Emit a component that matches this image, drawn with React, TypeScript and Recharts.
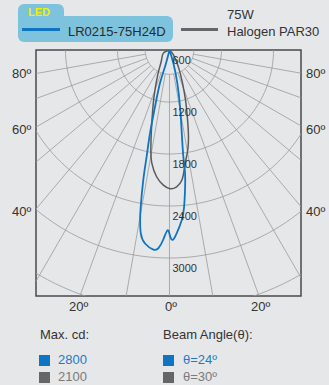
import { ReferenceArea, ReferenceDot, Scatter, ScatterChart, XAxis, YAxis } from 'recharts'

// candela curves: angle in degrees (0 = straight down, + = right) and cd
const ledAngles = [0, -15, -16, -14.3, -13.2, -12.1, -11.4, -10.4, -9.8, -8.9, -7.2, -4.6, -3.2, -1.9, -0.6, 0.2, 1.0, 2.2, 4.1, 5.3, 6.3, 7.2, 7.4, 8.4, 10.5, 13.3, 16.3, 0]
const ledCd = [600, 800, 1000, 1280, 1580, 1860, 2130, 2440, 2590, 2740, 2850, 2910, 2890, 2790, 2680, 2750, 2790, 2720, 2570, 2420, 2230, 2030, 1840, 1570, 1270, 990, 760, 600]

const halogenAngles = [0, -63, -38, -28, -23, -18.7, -15.3, -12.7, -10.6, -8.9, -5.8, -2.6, 0.2, 3.0, 5.4, 6.9, 8.5, 10.4, 12.5, 14.9, 17.7, 21.5, 27.8, 38.7, 0]
const halogenCd = [600, 680, 750, 860, 980, 1150, 1340, 1550, 1770, 1920, 2070, 2160, 2200, 2180, 2110, 2000, 1880, 1770, 1610, 1400, 1210, 1010, 820, 670, 600]

const hubCd = 880
const ringCd = [1200, 1800, 2400, 3000, 3600]
const ringLabels = ['600', '1200', '1800', '2400', '3000']
const spokeAngles = [-80, -70, -60, -50, -40, -30, -20, -10, 0, 10, 20, 30, 40, 50, 60, 70, 80]
const sideLabels = ['80º', '60º', '40º']
const bottomLabels = ['20º', '0º', '20º']

const maxCd = ['2800', '2100']
const beamAngles = ['θ=24º', 'θ=30º']

const LED_BLUE = '#0f75c3'
const HALOGEN_GRAY = '#5a5a5a'
const GRID = '#9a9a9a'
const CD_ZERO = 600 // radius axis starts at 600 cd at the lamp

const toXY = (angle: number, cd: number) => {
  const u = Math.max(cd - CD_ZERO, 0)
  const a = (angle * Math.PI) / 180
  return { x: u * Math.sin(a), y: -u * Math.cos(a) }
}

const ledPoints = ledAngles.map((a, i) => toXY(a, ledCd[i]))
const halogenPoints = halogenAngles.map((a, i) => toXY(a, halogenCd[i]))

const arc = (cd: number) => {
  const pts = []
  for (let a = -90; a <= 90; a += 2) pts.push(toXY(a, cd))
  return pts
}
const rings = [hubCd, ...ringCd].map(arc)
const spokes = spokeAngles.map((a) => [toXY(a, hubCd), toXY(a, 4200)])

const noDot = () => <g />

const ringLabel = (text: string) => (props: any) => {
  const vb = props.viewBox || {}
  return (
    <text x={(vb.x ?? 0) + 3} y={(vb.y ?? 0) + 10} fontSize={11} fill="#333" dominantBaseline="central">
      {text}
    </text>
  )
}

const txt = (left: number, top: number, extra: any = {}) => ({
  position: 'absolute' as const,
  left,
  top,
  fontSize: 13,
  lineHeight: '16px',
  whiteSpace: 'nowrap' as const,
  ...extra,
})

export default function App() {
  return (
    <div
      style={{
        position: 'fixed',
        left: 0,
        top: 0,
        width: 329,
        height: 385,
        overflow: 'hidden',
        background: '#e6e7e9',
        color: '#333',
        fontFamily: '"Liberation Sans", Arial, sans-serif',
      }}
    >
      {/* header legend */}
      <div style={{ position: 'absolute', left: 18, top: 4, width: 46, height: 16, background: '#7dc3dd', borderRadius: '6px 6px 0 0' }} />
      <div style={{ position: 'absolute', left: 18, top: 16, width: 155, height: 26, background: '#7dc3dd', borderRadius: '0 6px 6px 6px' }} />
      <div style={txt(28, 4, { fontSize: 11, fontWeight: 'bold', color: '#f2ee00' })}>LED</div>
      <div style={{ position: 'absolute', left: 22, top: 28, width: 38, height: 3, background: LED_BLUE }} />
      <div style={txt(68, 24, { color: '#2a2a2a' })}>LR0215-75H24D</div>
      <div style={{ position: 'absolute', left: 181, top: 28, width: 37, height: 3, background: '#666' }} />
      <div style={txt(227, 7)}>75W</div>
      <div style={txt(227, 24)}>Halogen PAR30</div>

      <div style={{ position: 'absolute', left: 0, top: 0 }}>
        <ScatterChart width={329} height={385} margin={{ top: 50, right: 28, bottom: 89, left: 36 }}>
          <XAxis type="number" dataKey="x" domain={[-1540, 1517]} allowDataOverflow hide />
          <YAxis type="number" dataKey="y" domain={[-2838, 0]} allowDataOverflow hide />
          {rings.map((pts, i) => (
            <Scatter
              key={`ring-${i}`}
              data={pts}
              line={{ stroke: GRID, strokeWidth: 0.8 }}
              shape={noDot}
              isAnimationActive={false}
            />
          ))}
          {spokes.map((pts, i) => (
            <Scatter
              key={`spoke-${i}`}
              data={pts}
              line={{ stroke: GRID, strokeWidth: 0.8 }}
              shape={noDot}
              isAnimationActive={false}
            />
          ))}
          <Scatter
            data={halogenPoints}
            line={{ stroke: HALOGEN_GRAY, strokeWidth: 1.5 }}
            lineJointType="natural"
            shape={noDot}
            isAnimationActive={false}
          />
          <Scatter
            data={ledPoints}
            line={{ stroke: LED_BLUE, strokeWidth: 1.8 }}
            lineJointType="natural"
            shape={noDot}
            isAnimationActive={false}
          />
          {ringLabels.map((t) => (
            <ReferenceDot
              key={t}
              x={0}
              y={-(Number(t) - CD_ZERO)}
              r={0}
              stroke="none"
              ifOverflow="visible"
              label={ringLabel(t)}
            />
          ))}
          <ReferenceArea
            x1={-1540}
            x2={1517}
            y1={-2838}
            y2={0}
            fill="none"
            stroke="#4a4a4a"
            strokeWidth={1.5}
            ifOverflow="visible"
          />
        </ScatterChart>
      </div>

      {/* angle labels */}
      {sideLabels.map((t, i) => (
        <div key={`l-${t}`} style={txt(12, [66, 122, 204][i])}>{t}</div>
      ))}
      {sideLabels.map((t, i) => (
        <div key={`r-${t}`} style={txt(306, [66, 122, 204][i])}>{t}</div>
      ))}
      {bottomLabels.map((t, i) => (
        <div key={`b-${i}`} style={txt([69, 165, 251][i], 299)}>{t}</div>
      ))}

      {/* footer */}
      <div style={txt(40, 327)}>Max. cd:</div>
      <div style={txt(163, 327)}>Beam Angle(θ):</div>
      {maxCd.map((t, i) => (
        <div key={`m-${t}`}>
          <div style={{ position: 'absolute', left: 39, top: 355 + i * 17, width: 11, height: 11, background: i === 0 ? LED_BLUE : '#666' }} />
          <div style={txt(58, 352 + i * 17, { color: i === 0 ? '#1a7cc8' : '#7a7a7a' })}>{t}</div>
        </div>
      ))}
      {beamAngles.map((t, i) => (
        <div key={`b-${t}`}>
          <div style={{ position: 'absolute', left: 163, top: 355 + i * 17, width: 11, height: 11, background: i === 0 ? LED_BLUE : '#666' }} />
          <div style={txt(183, 352 + i * 17, { color: i === 0 ? '#1a7cc8' : '#7a7a7a' })}>{t}</div>
        </div>
      ))}
    </div>
  )
}
